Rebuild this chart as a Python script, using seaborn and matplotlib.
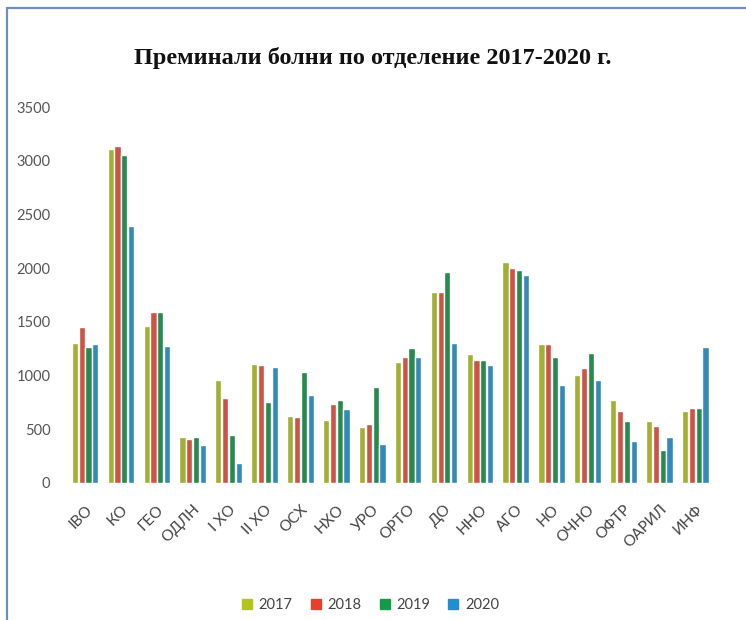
import matplotlib
matplotlib.use("Agg")
import matplotlib.pyplot as plt
import pandas as pd
import seaborn as sns
from matplotlib.lines import Line2D

departments = ["IВО", "КО", "ГЕО", "ОДЛН", "I ХО", "II ХО", "ОСХ", "НХО", "УРО",
               "ОРТО", "ДО", "ННО", "АГО", "НО", "ОЧНО", "ОФТР", "ОАРИЛ", "ИНФ"]
years = ["2017", "2018", "2019", "2020"]
v2017 = [1300, 3110, 1460, 425, 955, 1110, 625, 590, 520, 1130, 1775, 1205, 2055, 1295, 1005, 770, 580, 670]
v2018 = [1450, 3135, 1595, 410, 795, 1095, 615, 740, 550, 1175, 1780, 1150, 2005, 1295, 1075, 675, 535, 695]
v2019 = [1270, 3055, 1595, 425, 450, 750, 1035, 775, 890, 1255, 1965, 1150, 1985, 1170, 1210, 580, 305, 695]
v2020 = [1295, 2390, 1280, 350, 185, 1080, 815, 690, 365, 1175, 1305, 1095, 1940, 915, 960, 395, 425, 1270]
colors = ["#b3c41c", "#e5402f", "#159a49", "#1f8fcf"]

rows = []
for yr, vals in zip(years, [v2017, v2018, v2019, v2020]):
    for d, v in zip(departments, vals):
        rows.append({"dept": d, "year": yr, "value": v})
df = pd.DataFrame(rows)

sns.set_style("white")
plt.rcParams["font.family"] = ["Lato", "DejaVu Sans"]

fig = plt.figure(figsize=(7.46, 6.2), dpi=100)
ax = fig.add_axes([0.09, 0.221, 0.866, 0.606])

sns.barplot(data=df, x="dept", y="value", hue="year", palette=colors,
            width=0.76, gap=0.1, ax=ax, legend=False)

ax.set_ylim(0, 3500)
ax.set_xlim(-0.5, len(departments) - 0.5)
ax.set_yticks(range(0, 3501, 500))
ax.set_xlabel("")
ax.set_ylabel("")
sns.despine(ax=ax, left=True, bottom=True)
ax.tick_params(axis="y", labelsize=10.5, labelcolor="#555555", length=0, pad=12)
ax.tick_params(axis="x", labelsize=11, labelcolor="#444444", length=0, pad=14)
plt.setp(ax.get_xticklabels(), rotation=45, ha="right", rotation_mode="anchor")

fig.text(0.5, 0.906, "Преминали болни по отделение 2017-2020 г.",
         ha="center", va="center", fontsize=17.5, fontweight="bold",
         family=["Liberation Serif", "DejaVu Serif"], color="#111111")

handles = [Line2D([], [], marker="s", linestyle="", markersize=7, color=c) for c in colors]
fig.legend(handles, years, loc="center", bbox_to_anchor=(0.49, 0.024), ncol=4,
           frameon=False, fontsize=10.5, handletextpad=-0.2, columnspacing=0.6,
           labelcolor="#444444")

# frame edges of the original screenshot
fig.add_artist(Line2D([0.0095, 0.0095], [0, 0.987], color="#6f8fb8", lw=1.6, transform=fig.transFigure))
fig.add_artist(Line2D([0.0095, 1], [0.987, 0.987], color="#6f8fb8", lw=1.6, transform=fig.transFigure))

fig.savefig("out.png", dpi=100)
